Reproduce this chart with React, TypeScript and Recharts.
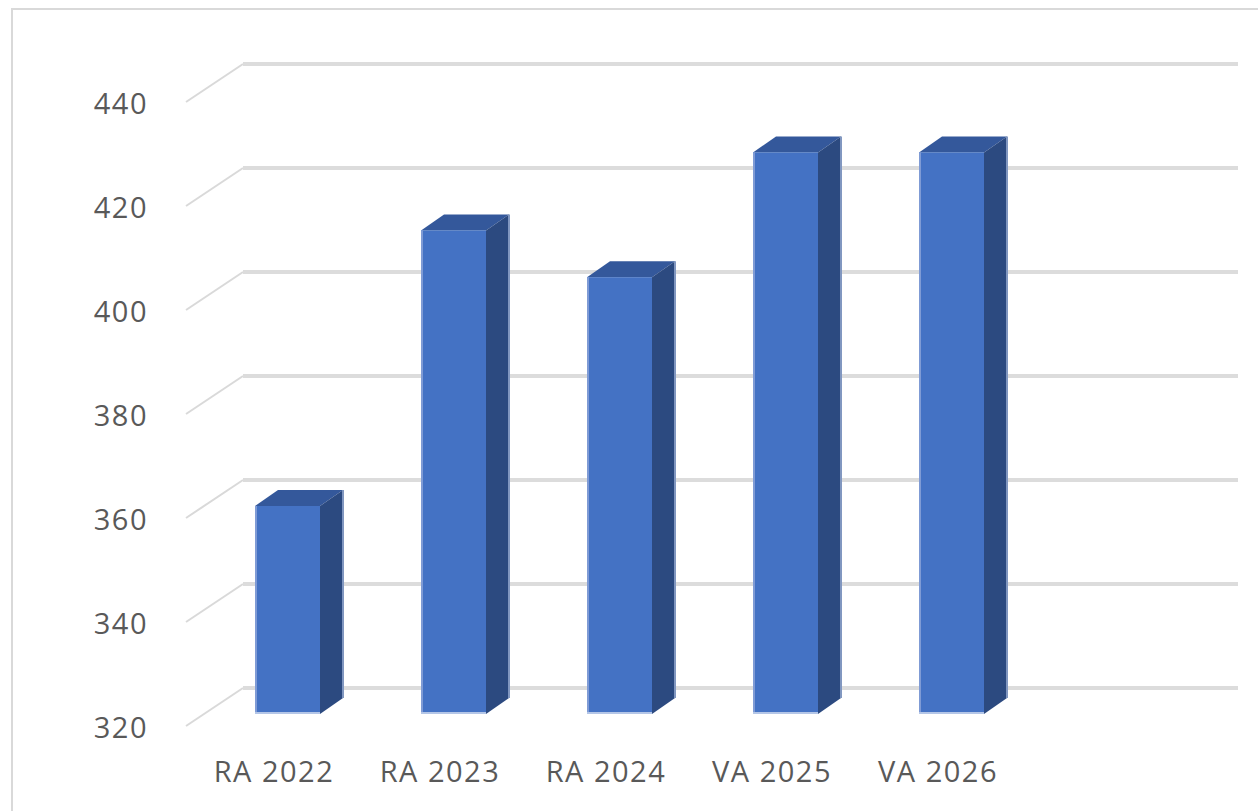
import React from 'react';
import { BarChart, Bar, XAxis, YAxis, CartesianGrid } from 'recharts';

const categories = ['RA 2022', 'RA 2023', 'RA 2024', 'VA 2025', 'VA 2026'];
const values = [360, 413, 404, 428, 428];
const yTicks = [320, 340, 360, 380, 400, 420, 440];

const data = categories.map((name, i) => ({ name, value: values[i] }));

// perspective offsets (px) for the fake 3D look
const BACK_DX = 39;
const BACK_DY = -26;
const FRONT_DX = -18;
const FRONT_DY = 12;
const DEPTH_DX = 23;
const DEPTH_DY = 16;

const textStyle = {
  fontFamily: '"Open Sans", "Noto Sans", sans-serif',
  fontSize: 29,
  fill: '#595959',
  letterSpacing: 1.5,
};

const renderGridLine = (props: any) => {
  const { x1, x2, y1, key } = props;
  return (
    <g key={key}>
      <line
        x1={x1 + FRONT_DX}
        y1={y1 + FRONT_DY}
        x2={x1 + BACK_DX}
        y2={y1 + BACK_DY}
        stroke="#d9d9d9"
        strokeWidth={2}
      />
      <line
        x1={x1 + BACK_DX}
        y1={y1 + BACK_DY}
        x2={x2 + BACK_DX}
        y2={y1 + BACK_DY}
        stroke="#dcdcdc"
        strokeWidth={4}
      />
    </g>
  );
};

const Bar3D = (props: any) => {
  const { x, y, width, height } = props;
  if (!height || height <= 0) return null;
  const r = x + width;
  const b = y + height;
  return (
    <g>
      {/* top face */}
      <polygon
        points={`${x},${y} ${x + DEPTH_DX},${y - DEPTH_DY} ${r + DEPTH_DX},${y - DEPTH_DY} ${r},${y}`}
        fill="#34589b"
      />
      {/* side face */}
      <polygon
        points={`${r},${y} ${r + DEPTH_DX},${y - DEPTH_DY} ${r + DEPTH_DX},${b - DEPTH_DY} ${r},${b}`}
        fill="#2c4a80"
      />
      <line x1={r + DEPTH_DX} y1={y - DEPTH_DY} x2={r + DEPTH_DX} y2={b - DEPTH_DY} stroke="#8197c0" strokeWidth={2} />
      {/* front face */}
      <rect x={x} y={y} width={width} height={height} fill="#4472c4" />
      <line x1={x + 1} y1={y} x2={x + 1} y2={b} stroke="#7f9bd5" strokeWidth={2} />
      <rect x={x} y={b - 2} width={width} height={3} fill="#b4c6e7" />
    </g>
  );
};

const YTick = (props: any) => {
  const { x, y, payload } = props;
  return (
    <text
      x={x - 56}
      y={y + FRONT_DY}
      textAnchor="end"
      dominantBaseline="central"
      style={textStyle}
    >
      {payload.value}
    </text>
  );
};

const XTick = (props: any) => {
  const { x, y, payload } = props;
  return (
    <text
      x={x - 13}
      y={y + 56}
      textAnchor="middle"
      dominantBaseline="central"
      style={textStyle}
    >
      {payload.value}
    </text>
  );
};

export default function App() {
  return (
    <div style={{ position: 'relative', width: 1258, height: 811, overflow: 'hidden', background: '#fff' }}>
      <style>{'body{margin:0}'}</style>
      <div
        style={{
          position: 'absolute',
          left: 11,
          top: 8,
          width: 1300,
          height: 900,
          border: '2px solid #d9d9d9',
        }}
      />
      <div style={{ position: 'absolute', left: 0, top: 0 }}>
        <BarChart
          width={1258}
          height={811}
          data={data}
          margin={{ top: 90, right: 59, left: 0, bottom: 0 }}
        >
          <CartesianGrid vertical={false} horizontal={renderGridLine} />
          <XAxis
            dataKey="name"
            height={97}
            axisLine={false}
            tickLine={false}
            tickSize={0}
            tickMargin={0}
            padding={{ left: 0, right: 165 }}
            tick={<XTick />}
            interval={0}
          />
          <YAxis
            width={204}
            domain={[320, 440]}
            ticks={yTicks}
            allowDataOverflow
            axisLine={false}
            tickLine={false}
            tickSize={0}
            tickMargin={0}
            tick={<YTick />}
          />
          <Bar dataKey="value" barSize={65} shape={<Bar3D />} isAnimationActive={false} />
        </BarChart>
      </div>
    </div>
  );
}
